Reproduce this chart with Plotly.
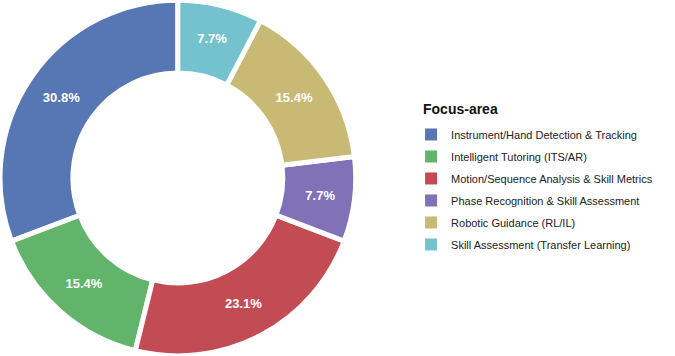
import plotly.graph_objects as go

labels = [
    "Instrument/Hand Detection & Tracking",
    "Intelligent Tutoring (ITS/AR)",
    "Motion/Sequence Analysis & Skill Metrics",
    "Phase Recognition & Skill Assessment",
    "Robotic Guidance (RL/IL)",
    "Skill Assessment (Transfer Learning)",
]
counts = [4, 2, 3, 1, 2, 1]
colors = ["#5676B4", "#62B46A", "#C34B53", "#8171B7", "#C8BA74", "#73C2CD"]
legend_title = "Focus-area"

fig = go.Figure()
fig.add_trace(
    go.Pie(
        labels=labels,
        values=counts,
        hole=0.59,
        sort=False,
        direction="counterclockwise",
        rotation=-110.77,
        marker=dict(colors=colors, line=dict(color="white", width=5)),
        texttemplate="%{percent:.1%}",
        textposition="inside",
        insidetextorientation="horizontal",
        textfont=dict(color="white", size=13, family="Liberation Sans", weight="bold"),
        domain=dict(x=[0, 0.527], y=[0, 1]),
        hoverinfo="label+percent",
        showlegend=False,
    )
)

# legend entries (square swatches)
for lab, col in zip(labels, colors):
    fig.add_trace(
        go.Scatter(
            x=[None], y=[None], mode="markers", name=lab, legendgroup=lab,
            marker=dict(symbol="square", size=12, color=col),
        )
    )

fig.update_layout(
    width=675,
    height=356,
    margin=dict(l=0, r=0, t=0, b=0),
    paper_bgcolor="white",
    plot_bgcolor="white",
    font=dict(family="Liberation Sans", color="#222222"),
    xaxis=dict(visible=False),
    yaxis=dict(visible=False),
    legend=dict(
        font=dict(size=11, color="#222222"),
        x=0.609,
        y=0.663,
        xanchor="left",
        yanchor="top",
        tracegroupgap=3,
        itemwidth=30,
    ),
    annotations=[
        dict(
            text="<b>" + legend_title + "</b>",
            x=0.624, y=0.695, xref="paper", yref="paper",
            xanchor="left", yanchor="middle", showarrow=False,
            font=dict(size=14, color="#111111"),
        )
    ],
)

fig.write_html("out.html")
